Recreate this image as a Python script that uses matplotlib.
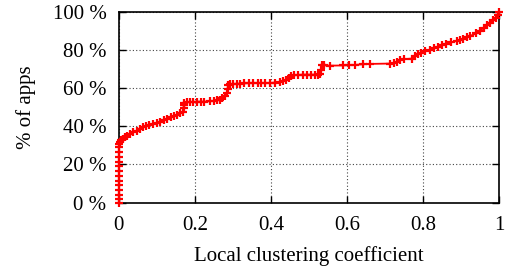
import matplotlib
matplotlib.use("Agg")
import matplotlib.pyplot as plt

# CDF of local clustering coefficient (x) vs % of apps (y)
coef = [0.0, 0.0, 0.0, 0.0, 0.0, 0.0, 0.0, 0.0, 0.0, 0.0, 0.0, 0.0, 0.0, 0.0,
        0.003, 0.006, 0.010, 0.015, 0.020, 0.029, 0.038, 0.047, 0.055, 0.063,
        0.072, 0.080, 0.090, 0.100, 0.108, 0.118, 0.127, 0.136, 0.145, 0.153,
        0.160, 0.168, 0.170, 0.171, 0.172, 0.180, 0.188, 0.195, 0.205, 0.215,
        0.225, 0.240, 0.250, 0.258, 0.266, 0.272, 0.279, 0.284, 0.286, 0.287,
        0.293, 0.300, 0.310, 0.318, 0.330, 0.342, 0.353, 0.365, 0.375, 0.385,
        0.397, 0.410, 0.424, 0.432, 0.441, 0.448, 0.452, 0.460, 0.470, 0.485,
        0.495, 0.505, 0.515, 0.524, 0.530, 0.533, 0.534, 0.540, 0.555, 0.590,
        0.605, 0.620, 0.642, 0.660, 0.713, 0.725, 0.731, 0.739, 0.750, 0.770,
        0.778, 0.788, 0.795, 0.805, 0.818, 0.830, 0.840, 0.850, 0.862, 0.875,
        0.889, 0.898, 0.906, 0.915, 0.925, 0.941, 0.950, 0.960, 0.968, 0.977,
        0.985, 0.992, 0.998, 1.0]
pct = [0.0, 2.0, 4.0, 6.5, 9.0, 11.5, 14.0, 16.5, 19.0, 21.5, 24.0, 26.5, 29.0, 30.5,
       32.0, 32.8, 33.5, 34.2, 35.0, 36.0, 37.0, 37.8, 38.6, 39.6,
       40.2, 40.8, 41.4, 42.0, 42.4, 43.2, 44.0, 44.8, 45.4, 46.0,
       46.8, 47.5, 49.5, 51.0, 52.2, 52.6, 52.8, 52.8, 53.0, 53.0,
       53.0, 53.2, 53.4, 53.7, 53.8, 55.0, 56.0, 57.5, 59.5, 61.6,
       62.0, 62.3, 62.4, 62.5, 62.6, 62.7, 62.8, 62.8, 62.8, 62.8,
       62.8, 63.0, 63.3, 63.8, 64.6, 65.5, 66.6, 66.8, 67.0, 67.2,
       67.2, 67.2, 67.2, 67.2, 67.4, 69.5, 72.1, 72.1, 71.9, 72.0,
       72.2, 72.3, 72.6, 72.8, 73.0, 73.3, 73.9, 75.0, 75.3, 75.6,
       76.8, 78.2, 78.8, 79.4, 80.3, 81.0, 81.8, 82.6, 83.5, 84.2,
       84.9, 85.4, 86.1, 86.8, 87.6, 88.8, 90.2, 91.8, 93.2, 94.5,
       95.8, 97.0, 98.4, 100.0]

x_ticks = [0, 0.2, 0.4, 0.6, 0.8, 1]
x_ticklabels = ["0", "0.2", "0.4", "0.6", "0.8", "1"]
y_ticks = [0, 20, 40, 60, 80, 100]
y_ticklabels = ["0 %", "20 %", "40 %", "60 %", "80 %", "100 %"]

plt.rcParams['font.family'] = ['Liberation Serif', 'DejaVu Serif']
plt.rcParams['font.size'] = 15

fig = plt.figure(figsize=(5.06, 2.70), dpi=100)
ax = fig.add_axes([0.235, 0.25, 0.751, 0.705])

ax.plot(coef, pct, color='#ff0000', lw=1.3, marker='+', ms=6, mew=1.6, zorder=3,
        clip_on=False)

ax.set_xlim(0, 1)
ax.set_ylim(0, 100)
ax.set_xticks(x_ticks)
ax.set_xticklabels(x_ticklabels)
ax.set_yticks(y_ticks)
ax.set_yticklabels(y_ticklabels)
ax.tick_params(direction='in', length=5, width=1, top=True, right=True,
               labelsize=15, colors='black')
ax.tick_params(axis='x', pad=10)
ax.tick_params(axis='y', pad=9)
ax.grid(True, color='#444444', linestyle=(0, (1, 2)), linewidth=0.8)
for s in ax.spines.values():
    s.set_linewidth(1.2)

ax.set_xlabel("Local clustering coefficient", fontsize=15, labelpad=8)
ax.set_ylabel("% of apps", fontsize=15, labelpad=12)

fig.savefig("out.png", dpi=100)
